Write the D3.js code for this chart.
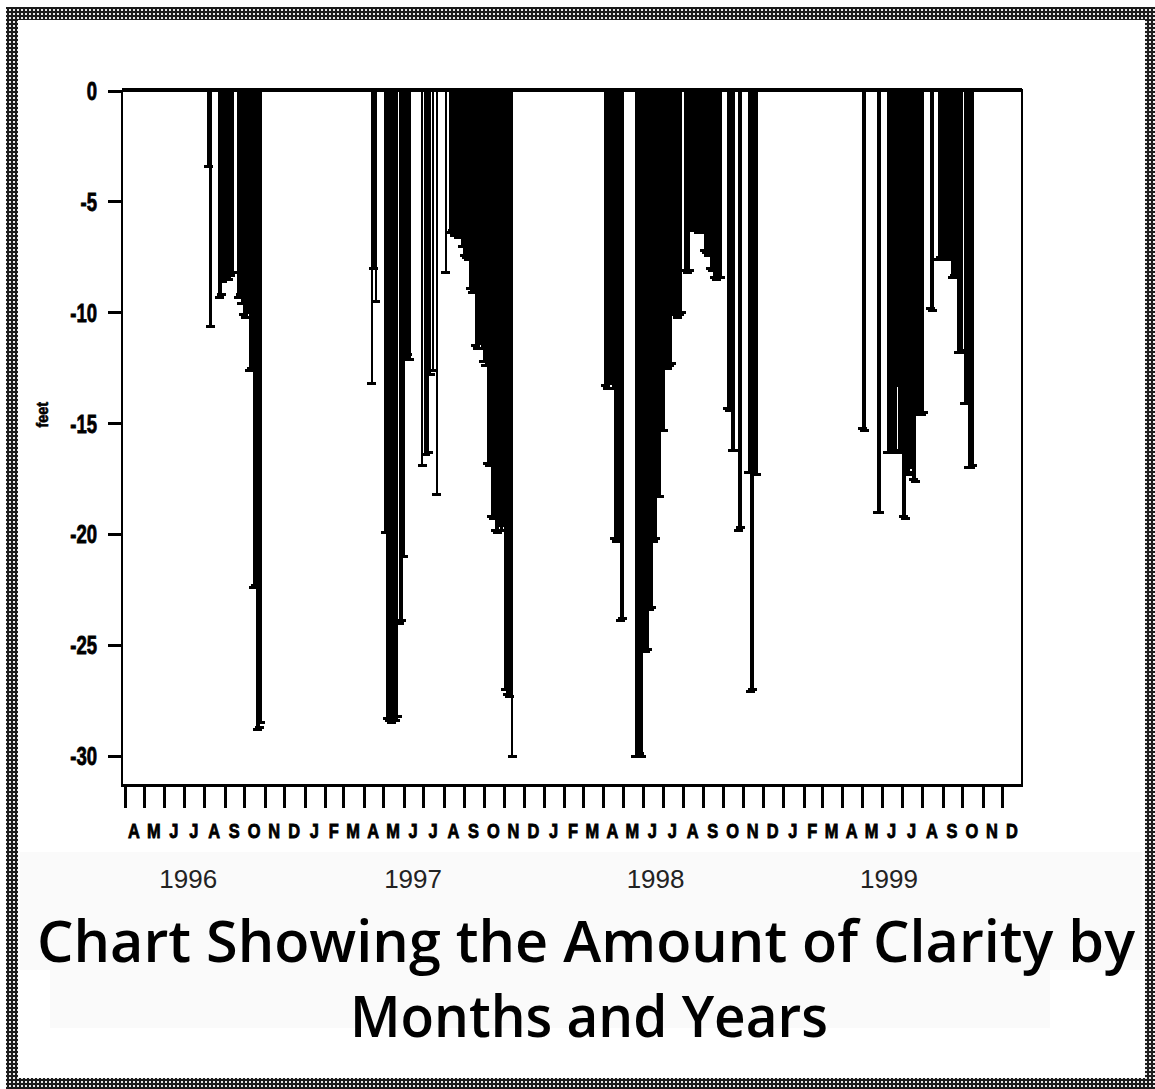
<!DOCTYPE html>
<html><head><meta charset="utf-8">
<script src="https://cdn.jsdelivr.net/npm/d3@7"></script>
<style>html,body{margin:0;padding:0;background:#fff;} svg{display:block}</style>
</head><body>
<script>
// ---- data (date, depth in feet) ----
const readings1996 = [
 ["1996-08-08",-3.4],["1996-08-11",-10.6],["1996-08-24",-9.3],["1996-08-27",-9.2],["1996-08-30",-8.6],
 ["1996-09-02",-8.5],["1996-09-05",-8.4],["1996-09-08",-8.5],["1996-09-11",-8.3],["1996-09-14",-8.2],
 ["1996-09-22",-9.3],["1996-09-25",-9.2],["1996-09-28",-9.6],["1996-10-01",-10.1],["1996-10-04",-10.2],
 ["1996-10-07",-10.0],["1996-10-10",-12.6],["1996-10-13",-12.5],["1996-10-16",-22.4],["1996-10-19",-22.3],
 ["1996-10-21",-28.8],["1996-10-24",-28.7],["1996-10-27",-28.5]
];
const readings1997 = [
 ["1997-04-14",-13.2],["1997-04-17",-8.0],["1997-04-20",-9.5],
 ["1997-05-05",-19.9],["1997-05-08",-28.3],["1997-05-11",-28.4],["1997-05-14",-28.5],["1997-05-17",-28.3],
 ["1997-05-20",-28.4],["1997-05-23",-28.2],["1997-05-27",-24.0],["1997-05-30",-23.9],["1997-06-02",-21.0],
 ["1997-06-05",-12.0],["1997-06-08",-11.9],["1997-06-11",-12.1],
 ["1997-06-30",-16.9],["1997-07-05",-16.4],["1997-07-09",-16.3],["1997-07-12",-12.8],["1997-07-16",-12.6],
 ["1997-07-22",-18.2],
 ["1997-08-05",-8.2],["1997-08-12",-6.4],["1997-08-15",-6.3],["1997-08-18",-6.5],["1997-08-21",-6.4],
 ["1997-08-24",-6.6],["1997-08-27",-6.6],["1997-08-30",-7.0],["1997-09-02",-7.4],["1997-09-05",-7.5],
 ["1997-09-08",-7.6],["1997-09-11",-8.9],["1997-09-14",-9.1],["1997-09-17",-9.0],["1997-09-20",-11.5],
 ["1997-09-23",-11.6],["1997-09-26",-11.4],["1997-09-29",-11.6],["1997-10-02",-12.2],["1997-10-05",-12.4],
 ["1997-10-08",-16.8],["1997-10-11",-16.9],["1997-10-14",-19.2],["1997-10-17",-19.3],["1997-10-20",-19.8],
 ["1997-10-23",-19.9],["1997-10-26",-19.6],["1997-10-29",-19.8],["1997-11-01",-19.5],["1997-11-04",-27.0],
 ["1997-11-07",-27.2],["1997-11-10",-27.3],["1997-11-14",-30.0]
];
const readings1998 = [
 ["1998-04-05",-13.3],["1998-04-08",-13.4],["1998-04-11",-13.4],["1998-04-14",-13.2],["1998-04-17",-13.4],
 ["1998-04-20",-20.2],["1998-04-23",-20.3],["1998-04-26",-20.3],["1998-04-29",-23.9],["1998-05-02",-23.8],
 ["1998-05-22",-30.0],["1998-05-25",-30.0],["1998-05-28",-29.9],["1998-05-31",-30.0],["1998-06-03",-25.3],
 ["1998-06-06",-25.3],["1998-06-09",-25.2],["1998-06-12",-23.4],["1998-06-15",-23.3],["1998-06-18",-20.3],
 ["1998-06-21",-20.2],["1998-06-24",-18.3],["1998-06-27",-18.3],["1998-06-30",-15.3],["1998-07-03",-15.3],
 ["1998-07-06",-12.4],["1998-07-09",-12.5],["1998-07-12",-12.4],["1998-07-15",-12.3],["1998-07-18",-10.1],
 ["1998-07-21",-10.1],["1998-07-24",-10.2],["1998-07-27",-10.1],["1998-07-30",-10.0],
 ["1998-08-05",-8.1],["1998-08-08",-8.2],["1998-08-11",-8.1],["1998-08-14",-6.3],["1998-08-17",-6.2],
 ["1998-08-20",-6.3],["1998-08-23",-6.2],["1998-08-26",-6.4],["1998-08-29",-6.3],["1998-09-01",-6.4],
 ["1998-09-04",-7.2],["1998-09-07",-7.3],["1998-09-10",-7.4],["1998-09-13",-8.0],["1998-09-16",-8.1],
 ["1998-09-19",-8.4],["1998-09-22",-8.5],["1998-09-25",-8.4],["1998-09-28",-8.4],
 ["1998-10-09",-14.3],["1998-10-12",-14.4],["1998-10-16",-16.2],["1998-10-19",-16.2],["1998-10-26",-19.8],
 ["1998-10-29",-19.7],
 ["1998-11-10",-17.2],["1998-11-13",-27.1],["1998-11-16",-27.0],["1998-11-19",-17.3],["1998-11-22",-17.3]
];
const readings1999 = [
 ["1999-05-03",-15.2],["1999-05-06",-15.3],["1999-05-26",-19.0],["1999-05-29",-19.0],
 ["1999-06-10",-16.3],["1999-06-13",-16.3],["1999-06-16",-16.2],["1999-06-19",-16.3],["1999-06-22",-16.2],
 ["1999-06-25",-13.3],["1999-06-28",-16.3],["1999-07-01",-16.3],["1999-07-04",-19.2],["1999-07-07",-19.3],
 ["1999-07-10",-17.2],["1999-07-13",-17.3],["1999-07-16",-17.0],["1999-07-19",-17.5],["1999-07-22",-17.6],
 ["1999-07-25",-14.6],["1999-07-28",-14.6],["1999-07-31",-14.6],["1999-08-03",-14.5],
 ["1999-08-15",-9.8],["1999-08-18",-9.9],
 ["1999-08-27",-7.6],["1999-08-30",-7.5],["1999-09-02",-7.6],["1999-09-05",-7.5],["1999-09-08",-7.6],
 ["1999-09-11",-7.5],["1999-09-14",-7.4],["1999-09-17",-8.4],["1999-09-20",-8.3],["1999-09-23",-8.4],
 ["1999-09-26",-11.8],["1999-09-29",-11.8],["1999-10-02",-11.7],["1999-10-06",-14.1],["1999-10-09",-14.1],
 ["1999-10-12",-17.0],["1999-10-15",-17.0],["1999-10-18",-16.9]
];
const yTickValues = [0,-5,-10,-15,-20,-25,-30];
const monthLetters = ["A","M","J","J","A","S","O","N","D",
 "J","F","M","A","M","J","J","A","S","O","N","D",
 "J","F","M","A","M","J","J","A","S","O","N","D",
 "J","F","M","A","M","J","J","A","S","O","N","D"];
const yearLabels = ["1996","1997","1998","1999"];
const yearLabelDates = ["1996-07-08","1997-06-16","1998-06-21","1999-06-12"];
const yAxisTitle = "feet";
const titleLines = ["Chart Showing the Amount of Clarity by","Months and Years"];

// ---- drawing ----
const W = 1155, H = 1089;
const parse = d3.timeParse("%Y-%m-%d");
const svg = d3.select("body").append("svg").attr("width", W).attr("height", H);

const x = d3.scaleTime().domain([new Date(1996,3,1), new Date(2000,0,1)]).range([124, 1022]);
const y = d3.scaleLinear().domain([0, -31.3]).range([91, 785]);

// border pattern
const defs = svg.append("defs");
const pat = defs.append("pattern").attr("id","chk").attr("width",4).attr("height",4)
  .attr("patternUnits","userSpaceOnUse");
pat.append("rect").attr("width",4).attr("height",4).attr("fill","#1c1c1c");
pat.append("rect").attr("x",1).attr("y",1).attr("width",2).attr("height",2).attr("fill","#e8e8e8");

svg.append("rect").attr("x",0).attr("y",0).attr("width",W).attr("height",H).attr("fill","#fff");
// faint scanned background panels behind labels
svg.append("rect").attr("x",20).attr("y",852).attr("width",1122).attr("height",118).attr("fill","#fafafa");
svg.append("rect").attr("x",50).attr("y",970).attr("width",1000).attr("height",58).attr("fill","#fafafa");

svg.append("path").attr("fill","url(#chk)").attr("fill-rule","evenodd")
  .attr("d","M6,7H1155V1089H6Z M18,20V1078H1145V20Z");

const all = [...readings1996, ...readings1997, ...readings1998, ...readings1999]
  .map(([d, v]) => ({date: parse(d), v}));

const plot = svg.append("g").attr("shape-rendering","crispEdges");

// bars (drop lines) with caps
plot.selectAll("line.bar").data(all).join("line").attr("class","bar")
  .attr("x1", d => x(d.date)).attr("x2", d => x(d.date))
  .attr("y1", y(0)).attr("y2", d => y(d.v))
  .attr("stroke","#000").attr("stroke-width",2.2);
plot.selectAll("rect.cap").data(all).join("rect").attr("class","cap")
  .attr("x", d => x(d.date) - 4.5).attr("y", d => y(d.v) - 1.5)
  .attr("width", 9).attr("height", 3).attr("fill","#000");

// frame
const [x0, x1] = x.range();
plot.append("line").attr("x1", x0-2).attr("x2", x1).attr("y1", y(0)-1).attr("y2", y(0)-1)
  .attr("stroke","#000").attr("stroke-width",3.5);
plot.append("line").attr("x1", x0-2).attr("x2", x0-2).attr("y1", y(0)).attr("y2", 786)
  .attr("stroke","#000").attr("stroke-width",2.5);
plot.append("line").attr("x1", x1).attr("x2", x1).attr("y1", y(0)-2).attr("y2", 786)
  .attr("stroke","#000").attr("stroke-width",2.5);
plot.append("line").attr("x1", x0-3).attr("x2", x1+1).attr("y1", 785).attr("y2", 785)
  .attr("stroke","#000").attr("stroke-width",3);

// y ticks
plot.selectAll("line.yt").data(yTickValues).join("line").attr("class","yt")
  .attr("x1", x0-16).attr("x2", x0-2).attr("y1", d => y(d)).attr("y2", d => y(d))
  .attr("stroke","#000").attr("stroke-width",3);
svg.selectAll("g.ytl").data(yTickValues).join("g").attr("class","ytl")
  .attr("transform", d => `translate(${x0-27},${y(d)+9}) scale(0.74,1)`)
  .append("text").attr("text-anchor","end")
  .style("font-family","'Liberation Sans', Arial, sans-serif").style("font-weight","bold")
  .style("font-size","25px").attr("stroke","#000").attr("stroke-width",0.8).text(d => d);

// y axis title
svg.append("g").attr("transform", `translate(48,${(y(-14.6))}) rotate(-90) scale(0.9,1)`)
  .append("text").attr("text-anchor","middle")
  .style("font-family","'Liberation Sans', Arial, sans-serif").style("font-weight","bold")
  .style("font-size","16px").attr("stroke","#000").attr("stroke-width",0.6).text(yAxisTitle);

// x ticks at month starts
const months = d3.timeMonth.range(x.domain()[0], x.domain()[1]);
plot.selectAll("line.xt").data(months).join("line").attr("class","xt")
  .attr("x1", d => x(d)+1).attr("x2", d => x(d)+1).attr("y1", 785).attr("y2", 808)
  .attr("stroke","#000").attr("stroke-width",3);

// month letters
svg.selectAll("g.ml").data(months).join("g").attr("class","ml")
  .attr("transform", d => `translate(${(x(d) + x(d3.timeMonth.offset(d,1)))/2},838) scale(0.78,1)`)
  .append("text").attr("text-anchor","middle")
  .style("font-family","'Liberation Sans', Arial, sans-serif").style("font-weight","bold")
  .style("font-size","21px").attr("stroke","#000").attr("stroke-width",0.9)
  .text((d,i) => monthLetters[i]);

// year labels
svg.selectAll("text.yl").data(yearLabels).join("text").attr("class","yl")
  .attr("x", (d,i) => x(parse(yearLabelDates[i]))).attr("y", 888)
  .attr("text-anchor","middle")
  .style("font-family","'Liberation Sans', Arial, sans-serif")
  .style("font-size","26px").attr("fill","#222").text(d => d);

// title
svg.append("text").attr("x", 37).attr("y", 962)
  .attr("textLength", 1098).attr("lengthAdjust","spacingAndGlyphs")
  .style("font-family","'Comic Sans MS','Open Sans',sans-serif").style("font-weight","600")
  .style("font-size","58px").attr("fill","#000").text(titleLines[0]);
svg.append("text").attr("x", 589).attr("y", 1037).attr("text-anchor","middle")
  .attr("textLength", 478).attr("lengthAdjust","spacingAndGlyphs")
  .style("font-family","'Comic Sans MS','Open Sans',sans-serif").style("font-weight","600")
  .style("font-size","58px").attr("fill","#000").text(titleLines[1]);
</script>
</body></html>
